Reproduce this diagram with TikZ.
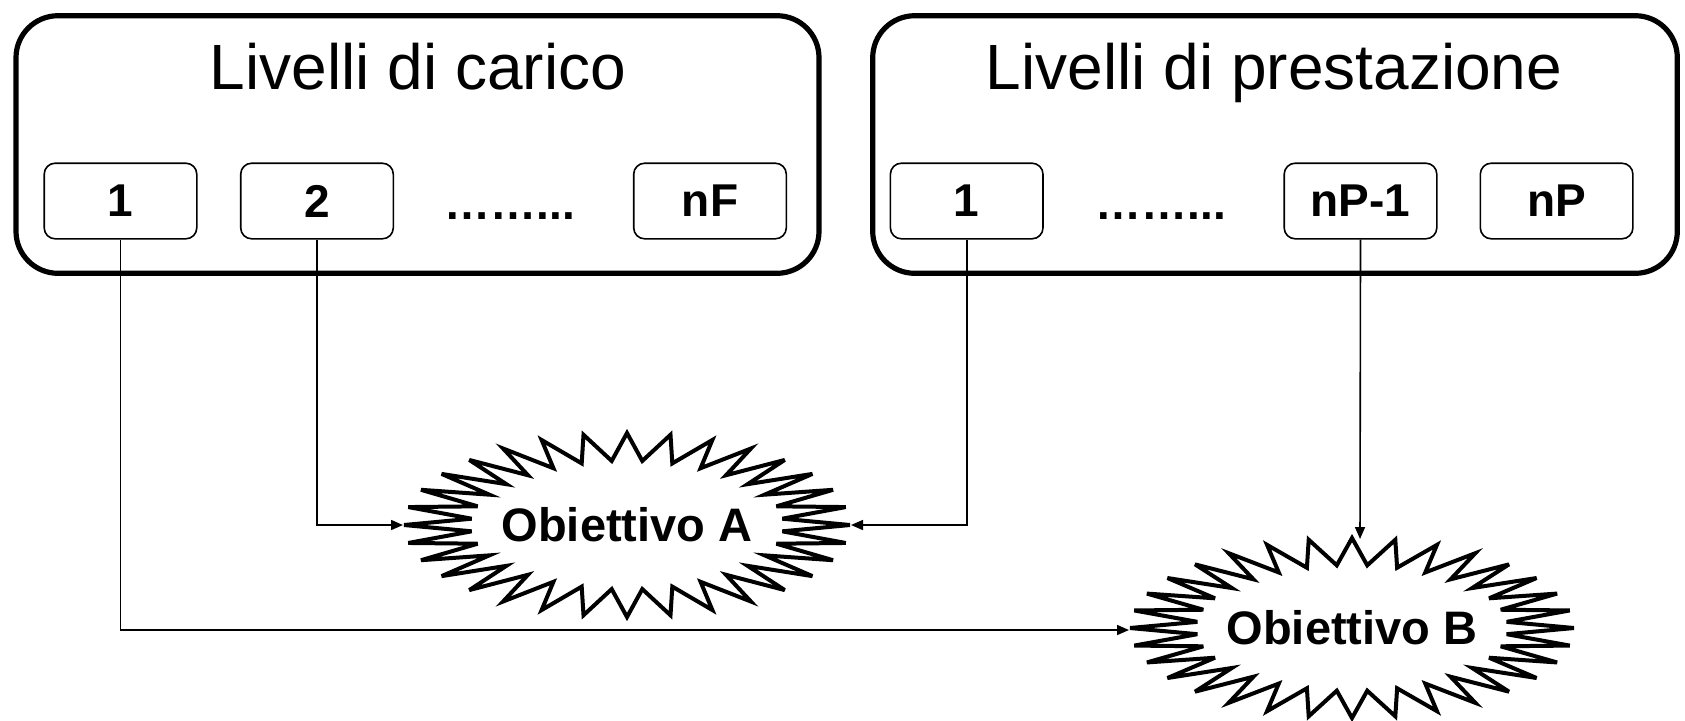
\documentclass[tikz,border=0pt]{standalone}
\usepackage{fontspec}
\setmainfont{Liberation Sans}
\usetikzlibrary{arrows.meta}
\newcommand\drawburst[4]{\draw[burstline] plot[samples at={0,...,63}, variable=\k] ({#1+(1-0.3*mod(\k,2))*#3*cos(\k*5.625)}, {#2-(1-0.3*mod(\k,2))*#4*sin(\k*5.625)}) -- cycle;}
\tikzset{
 bigbox/.style={draw, line width=2.6pt, rounded corners=21pt, minimum width=401.5pt, minimum height=128.8pt, inner sep=0pt},
 smallbox/.style={draw, line width=0.8pt, rounded corners=5.5pt, minimum width=76.3pt, minimum height=37.8pt, inner sep=0pt, font=\bfseries\fontsize{23}{26}\selectfont},
 titletext/.style={font=\fontsize{32}{38}\selectfont, anchor=base, inner sep=0pt},
 dotstext/.style={font=\bfseries\fontsize{23}{26}\selectfont, anchor=base, inner sep=0pt},
 burstline/.style={line width=2pt, line join=miter, miter limit=6},
 bursttext/.style={font=\bfseries\fontsize{23.5}{27}\selectfont, inner sep=0pt},
 conn/.style={line width=0.8pt, -{Triangle[length=6pt,width=5pt]}},
}
\begin{document}
\begin{tikzpicture}[x=0.5pt,y=-0.5pt]
\useasboundingbox (0,0) rectangle (1685,720);
\fill[white] (0,0) rectangle (1685,720);
% big boxes
\node[bigbox] (L) at (417.5,144.5) {};
\node[bigbox, minimum width=402.3pt] (R) at (1275,144.5) {};
\node[titletext] (Lt) at (418,89) {Livelli di carico};
\node[titletext] (Rt) at (1274,89) {Livelli di prestazione};
% small boxes
\node[smallbox] (c1) at (120.5,201) {1};
\node[smallbox] (c2) at (317,201) {2};
\node[dotstext] (cd) at (510,219) {……...};
\node[smallbox] (cn) at (710,201) {nF};
\node[smallbox] (p1) at (966.7,201) {1};
\node[dotstext] (pd) at (1161,219) {……...};
\node[smallbox] (pn1) at (1360.5,201) {nP-1};
\node[smallbox] (pn) at (1556.6,201) {nP};
% bursts
\drawburst{627}{525}{223}{92}
\drawburst{1352}{628}{222}{90}
\node[bursttext] (A) at (627,525) {Obiettivo A};
\node[bursttext] (B) at (1352,628) {Obiettivo B};
\coordinate (Aw) at (403,525);
\coordinate (Ae) at (851,525);
\coordinate (Bw) at (1129,630);
\coordinate (Bn) at (1360,539);
% connectors
\draw[conn] (c1.south) |- (Bw);
\draw[conn] (c2.south) |- (Aw);
\draw[conn] (p1.south) |- (Ae);
\draw[conn] (pn1.south) -- (Bn);
\end{tikzpicture}
\end{document}
